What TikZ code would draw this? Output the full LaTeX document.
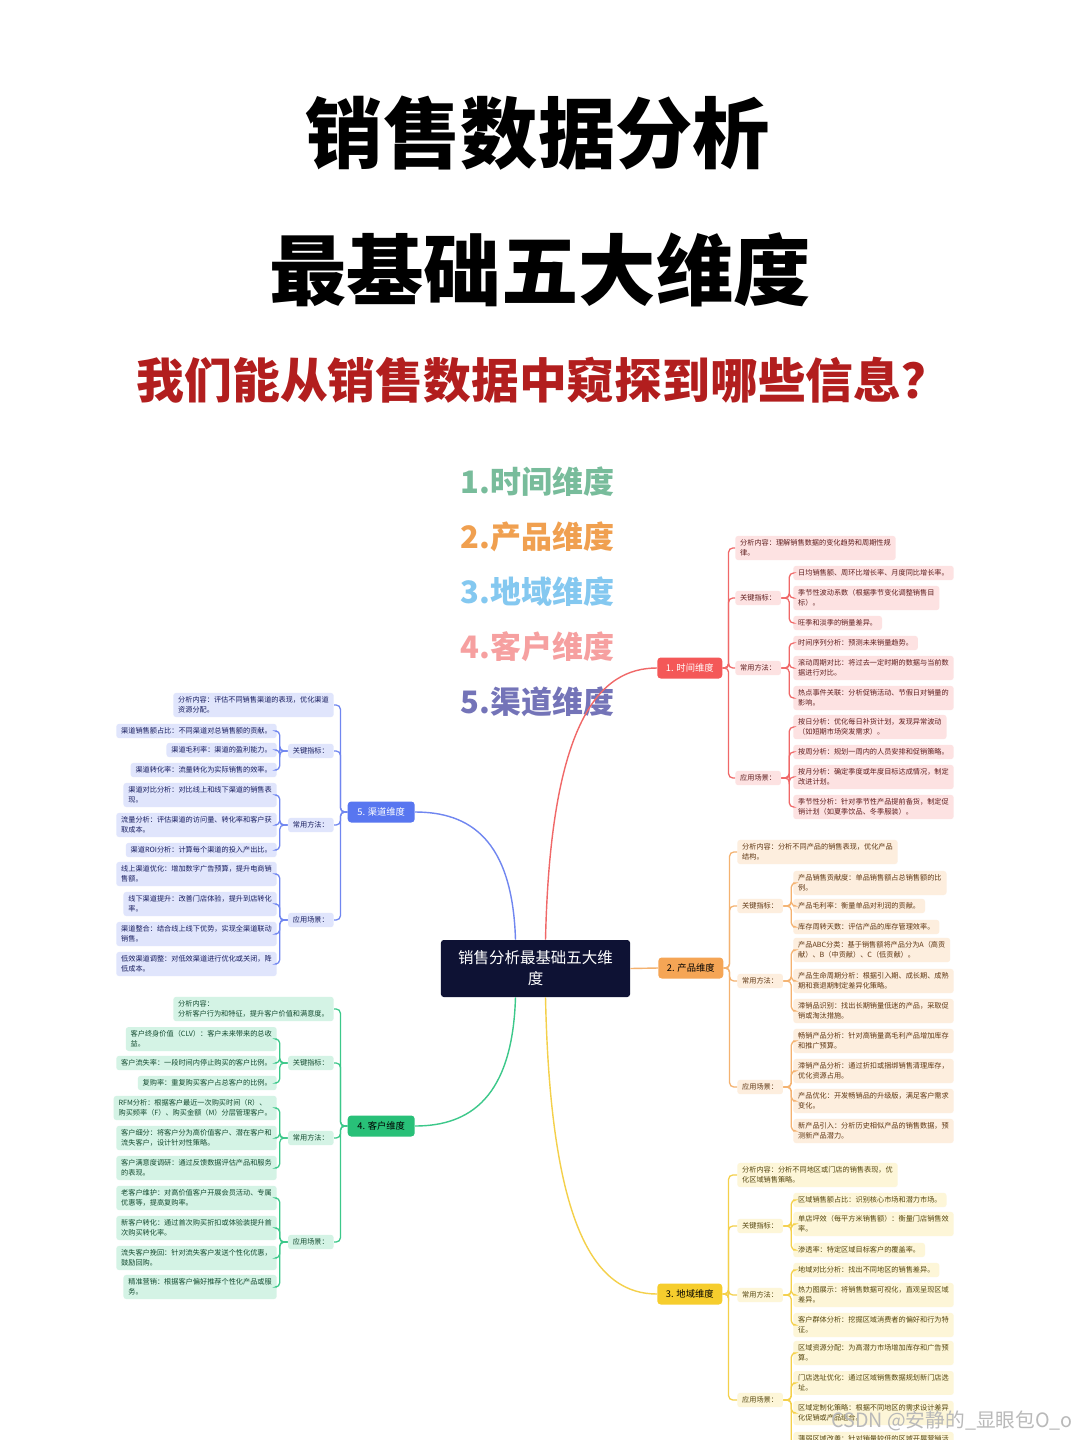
\documentclass[tikz,border=0pt]{standalone}
\usepackage{fontspec}
\setmainfont{Noto Sans CJK SC}
\usetikzlibrary{arrows.meta}

\definecolor{hubNavy}{RGB}{14,18,52}
\definecolor{ttlRed}{RGB}{178,30,30}
% branch colours
\definecolor{tmLine}{RGB}{240,104,104}
\definecolor{tmDim}{RGB}{244,88,88}
\definecolor{tmFill}{RGB}{253,226,226}
\definecolor{tmText}{RGB}{95,30,30}
\definecolor{pdLine}{RGB}{244,178,112}
\definecolor{pdDim}{RGB}{245,165,85}
\definecolor{pdFill}{RGB}{253,238,222}
\definecolor{pdText}{RGB}{95,55,20}
\definecolor{rgLine}{RGB}{244,208,74}
\definecolor{rgDim}{RGB}{246,205,45}
\definecolor{rgFill}{RGB}{253,246,216}
\definecolor{rgText}{RGB}{85,70,15}
\definecolor{chLine}{RGB}{112,134,240}
\definecolor{chDim}{RGB}{88,118,240}
\definecolor{chFill}{RGB}{224,229,252}
\definecolor{chText}{RGB}{25,30,95}
\definecolor{csLine}{RGB}{60,200,138}
\definecolor{csDim}{RGB}{40,192,120}
\definecolor{csFill}{RGB}{212,243,229}
\definecolor{csText}{RGB}{20,75,48}
% list colours
\definecolor{lsA}{RGB}{120,188,155}
\definecolor{lsB}{RGB}{240,160,80}
\definecolor{lsC}{RGB}{132,200,240}
\definecolor{lsD}{RGB}{246,160,160}
\definecolor{lsE}{RGB}{116,116,184}

\newcommand{\lffont}{\fontsize{5.1}{7}\selectfont}

\begin{document}
\begin{tikzpicture}[x=0.025cm, y=-0.025cm,
    ttl/.style={font=\bfseries\fontsize{55}{60}\selectfont},
    listitem/.style={anchor=west, font=\bfseries\fontsize{22}{26}\selectfont},
    hub/.style={fill=hubNavy, text=white, rounded corners=2pt, minimum width=4.725cm,
                minimum height=1.425cm, align=center, font=\fontsize{11}{15}\selectfont},
    dimbox/.style={fill=#1Dim, rounded corners=2.5pt, minimum width=1.625cm,
                   minimum height=0.525cm, inner sep=1pt, font=\fontsize{6.6}{8}\selectfont},
    leaf/.style={fill=#1Fill, text=#1Text, rounded corners=2pt, inner xsep=3.5pt,
                 inner ysep=2.7pt, align=left, font=\lffont},
    link/.style={draw=#1, line width=1pt},
    spine/.style={draw=#1, line width=0.9pt, rounded corners=3pt}]

    \useasboundingbox (0,0) rectangle (1080,1440);
    \clip (0,0) rectangle (1080,1440);
    \fill[white] (0,0) rectangle (1080,1440);

    % headings
    \node[ttl] (head1) at (538,133) {销售数据分析};
    \node[ttl] (head2) at (540,270) {最基础五大维度};
    \node[font=\bfseries\fontsize{34}{38}\selectfont, text=ttlRed] (sub) at (543,380)
         {我们能从销售数据中窥探到哪些信息？};

    \node[listitem, text=lsA] (ls1) at (456,482) {1.时间维度};
    \node[listitem, text=lsB] (ls2) at (456,537) {2.产品维度};
    \node[listitem, text=lsC] (ls3) at (456,592) {3.地域维度};
    \node[listitem, text=lsD] (ls4) at (456,647) {4.客户维度};
    \node[listitem, text=lsE] (ls5) at (456,702) {5.渠道维度};

    % centre and the five dimensions
    \node[hub] (hub) at (535.5,968.5) {销售分析最基础五大维\\度};
    \node[dimbox=tm, text=white, anchor=west] (tm) at (657,668) {1. 时间维度};
    \node[dimbox=pd, anchor=west] (pd) at (658,968) {2. 产品维度};
    \node[dimbox=rg, anchor=west] (rg) at (657,1294) {3. 地域维度};
    \node[dimbox=ch, text=white, anchor=east, minimum width=1.675cm] (ch) at (415,812) {5. 渠道维度};
    \node[dimbox=cs, anchor=east, minimum width=1.675cm] (cs) at (415,1126) {4. 客户维度};

    \draw[link=tmLine] ([xshift=0.25cm]hub.north) .. controls +(5,-220) and +(-57,0) .. (tm.west);
    \draw[link=pdLine] (hub.east) -- (pd.west);
    \draw[link=rgLine] ([xshift=0.25cm]hub.south) .. controls +(5,235) and +(-60,0) .. (rg.west);
    \draw[link=chLine] ([xshift=-0.5cm]hub.north) .. controls +(-3,-100) and +(55,0) .. (ch.east);
    \draw[link=csLine] ([xshift=-0.5cm]hub.south) .. controls +(-3,100) and +(55,0) .. (cs.east);

    % time
    \node[leaf=tm, anchor=west] (tmA) at (735,548) {分析内容：理解销售数据的变化趋势和周期性规\\律。};
    \node[leaf=tm, anchor=west] (tmK) at (735,598) {关键指标：};
    \node[leaf=tm, anchor=west] (tmM) at (735,668) {常用方法：};
    \node[leaf=tm, anchor=west] (tmS) at (735,778) {应用场景：};
    \node[leaf=tm, anchor=west] (tmK1) at (793,573) {日均销售额、周环比增长率、月度同比增长率。};
    \node[leaf=tm, anchor=west] (tmK2) at (793,598) {季节性波动系数（根据季节变化调整销售目\\标）。};
    \node[leaf=tm, anchor=west] (tmK3) at (793,623) {旺季和淡季的销量差异。};
    \node[leaf=tm, anchor=west] (tmM1) at (793,643) {时间序列分析：预测未来销量趋势。};
    \node[leaf=tm, anchor=west] (tmM2) at (793,668) {滚动周期对比：将过去一定时期的数据与当前数\\据进行对比。};
    \node[leaf=tm, anchor=west] (tmM3) at (793,698) {热点事件关联：分析促销活动、节假日对销量的\\影响。};
    \node[leaf=tm, anchor=west] (tmS1) at (793,727) {按日分析：优化每日补货计划，发现异常波动\\（如短期市场突发需求）。};
    \node[leaf=tm, anchor=west] (tmS2) at (793,752) {按周分析：规划一周内的人员安排和促销策略。};
    \node[leaf=tm, anchor=west] (tmS3) at (793,777) {按月分析：确定季度或年度目标达成情况，制定\\改进计划。};
    \node[leaf=tm, anchor=west] (tmS4) at (793,807) {季节性分析：针对季节性产品提前备货，制定促\\销计划（如夏季饮品、冬季服装）。};

    \foreach \c in {tmA,tmK,tmM,tmS} \draw[spine=tmLine] (tm.east) -- ++(6,0) |- (\c.west);
    \foreach \c in {tmK1,tmK2,tmK3} \draw[spine=tmLine] (tmK.east) -- ++(8,0) |- (\c.west);
    \foreach \c in {tmM1,tmM2,tmM3} \draw[spine=tmLine] (tmM.east) -- ++(8,0) |- (\c.west);
    \foreach \c in {tmS1,tmS2,tmS3,tmS4} \draw[spine=tmLine] (tmS.east) -- ++(8,0) |- (\c.west);

    % product
    \node[leaf=pd, anchor=west] (pdA) at (737,852) {分析内容：分析不同产品的销售表现，优化产品\\结构。};
    \node[leaf=pd, anchor=west] (pdK) at (737,906) {关键指标：};
    \node[leaf=pd, anchor=west] (pdM) at (737,981) {常用方法：};
    \node[leaf=pd, anchor=west] (pdS) at (737,1087) {应用场景：};
    \node[leaf=pd, anchor=west] (pdK1) at (793,883) {产品销售贡献度：单品销售额占总销售额的比\\例。};
    \node[leaf=pd, anchor=west] (pdK2) at (793,906) {产品毛利率：衡量单品对利润的贡献。};
    \node[leaf=pd, anchor=west] (pdK3) at (793,927) {库存周转天数：评估产品的库存管理效率。};
    \node[leaf=pd, anchor=west] (pdM1) at (793,950) {产品ABC分类：基于销售额将产品分为A（高贡\\献）、B（中贡献）、C（低贡献）。};
    \node[leaf=pd, anchor=west] (pdM2) at (793,981) {产品生命周期分析：根据引入期、成长期、成熟\\期和衰退期制定差异化策略。};
    \node[leaf=pd, anchor=west] (pdM3) at (793,1011) {滞销品识别：找出长期销量低迷的产品，采取促\\销或淘汰措施。};
    \node[leaf=pd, anchor=west] (pdS1) at (793,1041) {畅销产品分析：针对高销量高毛利产品增加库存\\和推广预算。};
    \node[leaf=pd, anchor=west] (pdS2) at (793,1071) {滞销产品分析：通过折扣或捆绑销售清理库存，\\优化资源占用。};
    \node[leaf=pd, anchor=west] (pdS3) at (793,1101) {产品优化：开发畅销品的升级版，满足客户需求\\变化。};
    \node[leaf=pd, anchor=west] (pdS4) at (793,1131) {新产品引入：分析历史相似产品的销售数据，预\\测新产品潜力。};

    \foreach \c in {pdA,pdK,pdM,pdS} \draw[spine=pdLine] (pd.east) -- ++(6,0) |- (\c.west);
    \foreach \c in {pdK1,pdK2,pdK3} \draw[spine=pdLine] (pdK.east) -- ++(8,0) |- (\c.west);
    \foreach \c in {pdM1,pdM2,pdM3} \draw[spine=pdLine] (pdM.east) -- ++(8,0) |- (\c.west);
    \foreach \c in {pdS1,pdS2,pdS3,pdS4} \draw[spine=pdLine] (pdS.east) -- ++(8,0) |- (\c.west);

    % region
    \node[leaf=rg, anchor=west] (rgA) at (737,1175) {分析内容：分析不同地区或门店的销售表现，优\\化区域销售策略。};
    \node[leaf=rg, anchor=west] (rgK) at (737,1226) {关键指标：};
    \node[leaf=rg, anchor=west] (rgM) at (737,1295) {常用方法：};
    \node[leaf=rg, anchor=west] (rgS) at (737,1400) {应用场景：};
    \node[leaf=rg, anchor=west] (rgK1) at (793,1200) {区域销售额占比：识别核心市场和潜力市场。};
    \node[leaf=rg, anchor=west] (rgK2) at (793,1224) {单店坪效（每平方米销售额）：衡量门店销售效\\率。};
    \node[leaf=rg, anchor=west] (rgK3) at (793,1250) {渗透率：特定区域目标客户的覆盖率。};
    \node[leaf=rg, anchor=west] (rgM1) at (793,1270) {地域对比分析：找出不同地区的销售差异。};
    \node[leaf=rg, anchor=west] (rgM2) at (793,1295) {热力图展示：将销售数据可视化，直观呈现区域\\差异。};
    \node[leaf=rg, anchor=west] (rgM3) at (793,1325) {客户群体分析：挖掘区域消费者的偏好和行为特\\征。};
    \node[leaf=rg, anchor=west] (rgS1) at (793,1353) {区域资源分配：为高潜力市场增加库存和广告预\\算。};
    \node[leaf=rg, anchor=west] (rgS2) at (793,1383) {门店选址优化：通过区域销售数据规划新门店选\\址。};
    \node[leaf=rg, anchor=west] (rgS3) at (793,1413) {区域定制化策略：根据不同地区的需求设计差异\\化促销或产品组合。};
    \node[leaf=rg, anchor=west] (rgS4) at (793,1444) {薄弱区域改善：针对销量较低的区域开展营销活\\动。};

    \foreach \c in {rgA,rgK,rgM,rgS} \draw[spine=rgLine] (rg.east) -- ++(6,0) |- (\c.west);
    \foreach \c in {rgK1,rgK2,rgK3} \draw[spine=rgLine] (rgK.east) -- ++(8,0) |- (\c.west);
    \foreach \c in {rgM1,rgM2,rgM3} \draw[spine=rgLine] (rgM.east) -- ++(8,0) |- (\c.west);
    \foreach \c in {rgS1,rgS2,rgS3,rgS4} \draw[spine=rgLine] (rgS.east) -- ++(8,0) |- (\c.west);

    % channel
    \node[leaf=ch, anchor=east] (chA) at (334,705) {分析内容：评估不同销售渠道的表现，优化渠道\\资源分配。};
    \node[leaf=ch, anchor=east] (chK) at (334,751) {关键指标：};
    \node[leaf=ch, anchor=east] (chM) at (334,825) {常用方法：};
    \node[leaf=ch, anchor=east] (chS) at (334,920) {应用场景：};
    \node[leaf=ch, anchor=east] (chK1) at (277,731) {渠道销售额占比：不同渠道对总销售额的贡献。};
    \node[leaf=ch, anchor=east] (chK2) at (277,750) {渠道毛利率：渠道的盈利能力。};
    \node[leaf=ch, anchor=east] (chK3) at (277,770) {渠道转化率：流量转化为实际销售的效率。};
    \node[leaf=ch, anchor=east] (chM1) at (277,795) {渠道对比分析：对比线上和线下渠道的销售表\\现。};
    \node[leaf=ch, anchor=east] (chM2) at (277,825) {流量分析：评估渠道的访问量、转化率和客户获\\取成本。};
    \node[leaf=ch, anchor=east] (chM3) at (277,850) {渠道ROI分析：计算每个渠道的投入产出比。};
    \node[leaf=ch, anchor=east] (chS1) at (277,874) {线上渠道优化：增加数字广告预算，提升电商销\\售额。};
    \node[leaf=ch, anchor=east] (chS2) at (277,904) {线下渠道提升：改善门店体验，提升到店转化\\率。};
    \node[leaf=ch, anchor=east] (chS3) at (277,934) {渠道整合：结合线上线下优势，实现全渠道联动\\销售。};
    \node[leaf=ch, anchor=east] (chS4) at (277,964) {低效渠道调整：对低效渠道进行优化或关闭，降\\低成本。};

    \foreach \c in {chA,chK,chM,chS} \draw[spine=chLine] (ch.west) -- ++(-7,0) |- (\c.east);
    \foreach \c in {chK1,chK2,chK3} \draw[spine=chLine] (chK.west) -- ++(-8,0) |- (\c.east);
    \foreach \c in {chM1,chM2,chM3} \draw[spine=chLine] (chM.west) -- ++(-8,0) |- (\c.east);
    \foreach \c in {chS1,chS2,chS3,chS4} \draw[spine=chLine] (chS.west) -- ++(-8,0) |- (\c.east);

    % customer
    \node[leaf=cs, anchor=east] (csA) at (334,1009) {分析内容：\\分析客户行为和特征，提升客户价值和满意度。};
    \node[leaf=cs, anchor=east] (csK) at (334,1063) {关键指标：};
    \node[leaf=cs, anchor=east] (csM) at (334,1138) {常用方法：};
    \node[leaf=cs, anchor=east] (csS) at (334,1242) {应用场景：};
    \node[leaf=cs, anchor=east] (csK1) at (277,1039) {客户终身价值（CLV）：客户未来带来的总收\\益。};
    \node[leaf=cs, anchor=east] (csK2) at (277,1063) {客户流失率：一段时间内停止购买的客户比例。};
    \node[leaf=cs, anchor=east] (csK3) at (277,1083) {复购率：重复购买客户占总客户的比例。};
    \node[leaf=cs, anchor=east] (csM1) at (277,1108) {RFM分析：根据客户最近一次购买时间（R）、\\购买频率（F）、购买金额（M）分层管理客户。};
    \node[leaf=cs, anchor=east] (csM2) at (277,1138) {客户细分：将客户分为高价值客户、潜在客户和\\流失客户，设计针对性策略。};
    \node[leaf=cs, anchor=east] (csM3) at (277,1168) {客户满意度调研：通过反馈数据评估产品和服务\\的表现。};
    \node[leaf=cs, anchor=east] (csS1) at (277,1198) {老客户维护：对高价值客户开展会员活动、专属\\优惠等，提高复购率。};
    \node[leaf=cs, anchor=east] (csS2) at (277,1228) {新客户转化：通过首次购买折扣或体验装提升首\\次购买转化率。};
    \node[leaf=cs, anchor=east] (csS3) at (277,1258) {流失客户挽回：针对流失客户发送个性化优惠，\\鼓励回购。};
    \node[leaf=cs, anchor=east] (csS4) at (277,1287) {精准营销：根据客户偏好推荐个性化产品或服\\务。};

    \foreach \c in {csA,csK,csM,csS} \draw[spine=csLine] (cs.west) -- ++(-7,0) |- (\c.east);
    \foreach \c in {csK1,csK2,csK3} \draw[spine=csLine] (csK.west) -- ++(-8,0) |- (\c.east);
    \foreach \c in {csM1,csM2,csM3} \draw[spine=csLine] (csM.west) -- ++(-8,0) |- (\c.east);
    \foreach \c in {csS1,csS2,csS3,csS4} \draw[spine=csLine] (csS.west) -- ++(-8,0) |- (\c.east);

    % watermark
    \node[text=gray!55, font=\fontsize{14}{16}\selectfont] (mark) at (952,1421) {CSDN @安静的\_显眼包O\_o};
\end{tikzpicture}
\end{document}
